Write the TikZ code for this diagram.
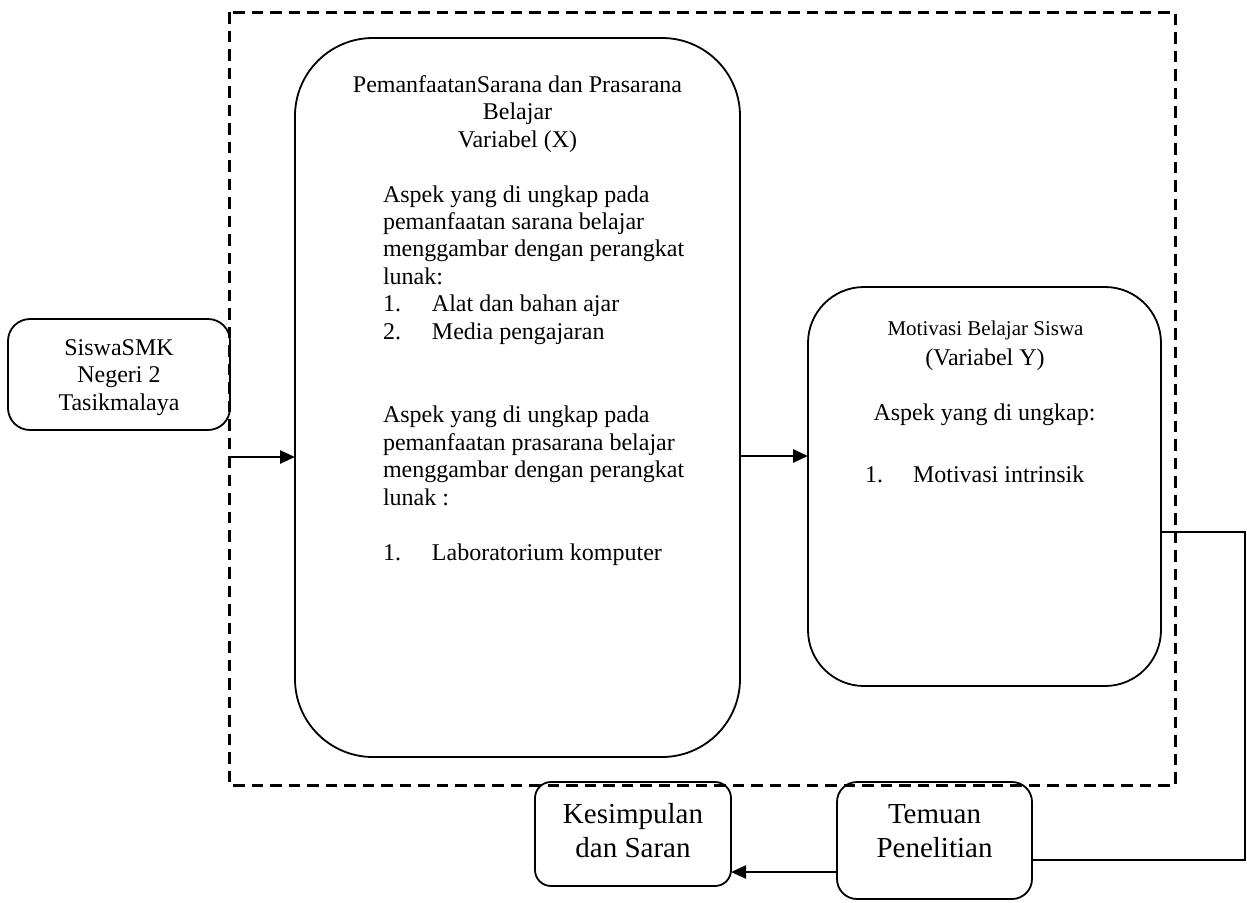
\documentclass[tikz,border=0pt]{standalone}
\usepackage{fontspec}
\setmainfont{Liberation Serif}
\usetikzlibrary{arrows.meta,calc}
\newcommand\fsz[2]{\fontsize{#1}{#2}\selectfont}
\tikzset{
  box/.style={draw, line width=1.8pt, inner sep=0pt, outer sep=0pt},
  txt/.style={inner sep=0pt, outer sep=0pt},
  arr/.style={line width=2.6pt, -{Triangle[length=15pt,width=13pt]}},
  plain/.style={line width=1.6pt},
  frame/.style={line width=3pt, dash pattern=on 11.5pt off 7pt},
}
\begin{document}
\begin{tikzpicture}[x=1pt,y=-1pt]
\useasboundingbox (0,0) rectangle (1247,902);
% dashed frame
\draw[frame] (229,12) rectangle (1175,785);
% boxes
\node[box, rounded corners=78pt, minimum width=445pt, minimum height=719pt] (X) at (517.5,397.5) {};
\node[box, rounded corners=56pt, minimum width=353pt, minimum height=399pt] (Y) at (984.5,486.5) {};
\node[box, rounded corners=22pt, minimum width=222pt, minimum height=111pt] (S) at (119,374.5) {};
\node[box, rounded corners=16pt, minimum width=196pt, minimum height=104pt] (K) at (633,834) {};
\node[box, rounded corners=20pt, minimum width=195pt, minimum height=117pt] (T) at (934.5,840.5) {};
% texts (base anchor = baseline of the last line)
\node[txt, anchor=base, align=center, font=\fsz{24}{27.5}] (xt) at (517.5,147)
  {PemanfaatanSarana dan Prasarana\\Belajar\\Variabel (X)};
\node[txt, anchor=base west, align=left, font=\fsz{24}{27.4}] (xb1) at (383,339)
  {Aspek yang di ungkap pada\\pemanfaatan sarana belajar\\menggambar dengan perangkat\\lunak:\\\makebox[49pt][l]{1.}Alat dan bahan ajar\\\makebox[49pt][l]{2.}Media pengajaran};
\node[txt, anchor=base west, align=left, font=\fsz{24}{27.4}] (xb2) at (383,505)
  {Aspek yang di ungkap pada\\pemanfaatan prasarana belajar\\menggambar dengan perangkat\\lunak :};
\node[txt, anchor=base west, font=\fsz{24}{27.4}] (xb3) at (383,560)
  {\makebox[49pt][l]{1.}Laboratorium komputer};
\node[txt, anchor=base, font=\fsz{21}{25}] (yt1) at (985.5,335) {Motivasi Belajar Siswa};
\node[txt, anchor=base, font=\fsz{24}{27.4}] (yt2) at (985,365) {(Variabel Y)};
\node[txt, anchor=base, font=\fsz{24}{27.4}] (yt3) at (984.5,420) {Aspek yang di ungkap:};
\node[txt, anchor=base west, font=\fsz{24}{27.4}] (yt4) at (865,482) {\makebox[48pt][l]{1.}Motivasi intrinsik};
\node[txt, anchor=base, align=center, font=\fsz{24}{27.5}] (st) at (119,410) {SiswaSMK\\Negeri 2\\Tasikmalaya};
\node[txt, anchor=base, align=center, font=\fsz{29}{34}] (kt) at (633,857) {Kesimpulan\\dan Saran};
\node[txt, anchor=base, align=center, font=\fsz{29}{34}] (tt) at (934.5,857) {Temuan\\Penelitian};
% connectors
\coordinate (a0) at (229,457);
\draw[arr] (a0) -- (a0 -| X.west);
\coordinate (a1) at (740,456);
\draw[arr] (a1 -| X.east) -- (a1 -| Y.west);
\coordinate (r1) at (1245,532);
\coordinate (r2) at (1245,860);
\draw[plain] (r1 -| Y.east) -- (r1) -- (r2) -- (r2 -| T.east);
\coordinate (a2) at (800,872);
\draw[arr] (a2 -| T.west) -- (a2 -| K.east);
\end{tikzpicture}
\end{document}
